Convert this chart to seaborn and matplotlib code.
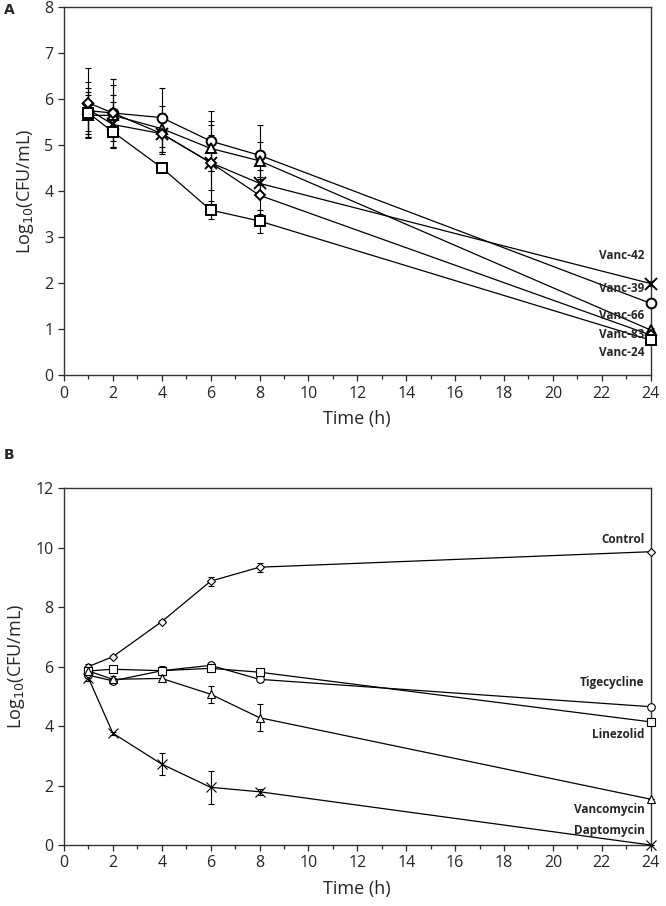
import numpy as np
import pandas as pd
import matplotlib
matplotlib.use("Agg")
import matplotlib.pyplot as plt
import seaborn as sns

# Panel A - vancomycin strains
time_a = [1, 2, 4, 6, 8, 24]
strains_a = ["Vanc-42", "Vanc-39", "Vanc-66", "Vanc-83", "Vanc-24"]
markers_a = {"Vanc-42": "x", "Vanc-39": "o", "Vanc-66": "^", "Vanc-83": "D", "Vanc-24": "s"}
vanc42 = [5.78, 5.45, 5.25, 4.62, 4.17, 1.99]
vanc39 = [5.75, 5.70, 5.60, 5.09, 4.78, 1.56]
vanc66 = [5.65, 5.65, 5.36, 4.93, 4.66, 0.98]
vanc83 = [5.92, 5.70, 5.25, 4.62, 3.91, 0.87]
vanc24 = [5.70, 5.29, 4.51, 3.59, 3.35, 0.76]
sd42 = [0.60, 0.50, 0.40, 0.60, 0.30, 0.05]
sd39 = [0.50, 0.75, 0.65, 0.65, 0.65, 0.05]
sd66 = [0.50, 0.45, 0.50, 0.50, 0.40, 0.05]
sd83 = [0.75, 0.60, 0.45, 0.90, 0.40, 0.05]
sd24 = [0.40, 0.35, 0.10, 0.20, 0.25, 0.05]
label_y_a = [2.59, 1.89, 1.30, 0.89, 0.50]

# Panel B - antibiotics
time_b = [1, 2, 4, 6, 8, 24]
drugs_b = ["Control", "Tigecycline", "Linezolid", "Vancomycin", "Daptomycin"]
markers_b = {"Control": "D", "Tigecycline": "o", "Linezolid": "s", "Vancomycin": "^", "Daptomycin": "x"}
control = [6.00, 6.33, 7.51, 8.87, 9.34, 9.86]
tigecycline = [5.71, 5.52, 5.86, 6.04, 5.57, 4.65]
linezolid = [5.85, 5.91, 5.86, 5.94, 5.81, 4.14]
vancomycin = [5.85, 5.57, 5.60, 5.07, 4.28, 1.54]
daptomycin = [5.62, 3.76, 2.72, 1.94, 1.79, 0.00]
sd_control = [0.10, 0.05, 0.05, 0.15, 0.15, 0.0]
sd_tige = [0.10, 0.05, 0.10, 0.08, 0.10, 0.0]
sd_line = [0.10, 0.05, 0.15, 0.08, 0.10, 0.0]
sd_vanc = [0.15, 0.10, 0.10, 0.28, 0.45, 0.0]
sd_dapt = [0.10, 0.05, 0.38, 0.55, 0.10, 0.0]
label_y_b = [10.28, 5.45, 3.70, 1.18, 0.50]

df_a = pd.DataFrame({
    "time": time_a * 5,
    "log": vanc42 + vanc39 + vanc66 + vanc83 + vanc24,
    "sd": sd42 + sd39 + sd66 + sd83 + sd24,
    "strain": sum([[s] * len(time_a) for s in strains_a], []),
})
df_b = pd.DataFrame({
    "time": time_b * 5,
    "log": control + tigecycline + linezolid + vancomycin + daptomycin,
    "sd": sd_control + sd_tige + sd_line + sd_vanc + sd_dapt,
    "strain": sum([[s] * len(time_b) for s in drugs_b], []),
})

sns.set_style("white")
plt.rcParams["font.family"] = ["Open Sans", "DejaVu Sans"]

fig = plt.figure(figsize=(6.66, 9.06), dpi=100)
ax_a = fig.add_axes([0.096, 0.586, 0.881, 0.406])
ax_b = fig.add_axes([0.096, 0.0673, 0.881, 0.394])

# relative marker scaling so the x and diamond look like the others
size_scale = {"x": 1.2, "D": 0.8, "o": 1.0, "^": 1.0, "s": 1.0}


def draw_panel(ax, df, names, markers, label_y, ymax, ystep, msize, lw, mew):
    for name in names:
        sub = df[df["strain"] == name]
        ax.errorbar(sub["time"], sub["log"], yerr=sub["sd"], fmt="none",
                    ecolor="black", elinewidth=0.8, capsize=2, capthick=0.8,
                    zorder=2, clip_on=False)
        m = markers[name]
        sns.lineplot(data=sub, x="time", y="log", color="black", marker=m,
                     ax=ax, linewidth=lw, markersize=msize * size_scale[m],
                     markerfacecolor="white", markeredgecolor="black",
                     markeredgewidth=mew, zorder=3, clip_on=False)
    for name, y in zip(names, label_y):
        ax.text(23.75, y, name, ha="right", va="center", fontsize=8.5, fontweight="bold")
    ax.set_xlim(0, 24)
    ax.set_ylim(0, ymax)
    ax.set_xticks(range(0, 25, 2))
    ax.set_xticks(range(1, 24, 2), minor=True)
    ax.set_yticks(np.arange(0, ymax + 0.1, ystep))
    ax.tick_params(axis="both", which="major", direction="out", length=4, width=0.9,
                   labelsize=11.5, bottom=True, left=True)
    ax.tick_params(axis="x", which="minor", direction="out", length=3, width=0.9, bottom=True)
    for sp in ax.spines.values():
        sp.set_color("#333333")
        sp.set_linewidth(1.0)
    ax.set_xlabel("Time (h)", fontsize=13, labelpad=6)
    ax.set_ylabel(r"Log$_{10}$(CFU/mL)", fontsize=13, labelpad=6)


draw_panel(ax_a, df_a, strains_a, markers_a, label_y_a, 8, 1, 7, 0.9, 1.4)
draw_panel(ax_b, df_b, drugs_b, markers_b, label_y_b, 12, 2, 5.5, 0.9, 0.8)

fig.text(0.006, 0.985, "A", fontsize=10, fontweight="bold", family="DejaVu Sans")
fig.text(0.006, 0.493, "B", fontsize=10, fontweight="bold", family="DejaVu Sans")

fig.savefig("out.png", dpi=100)
